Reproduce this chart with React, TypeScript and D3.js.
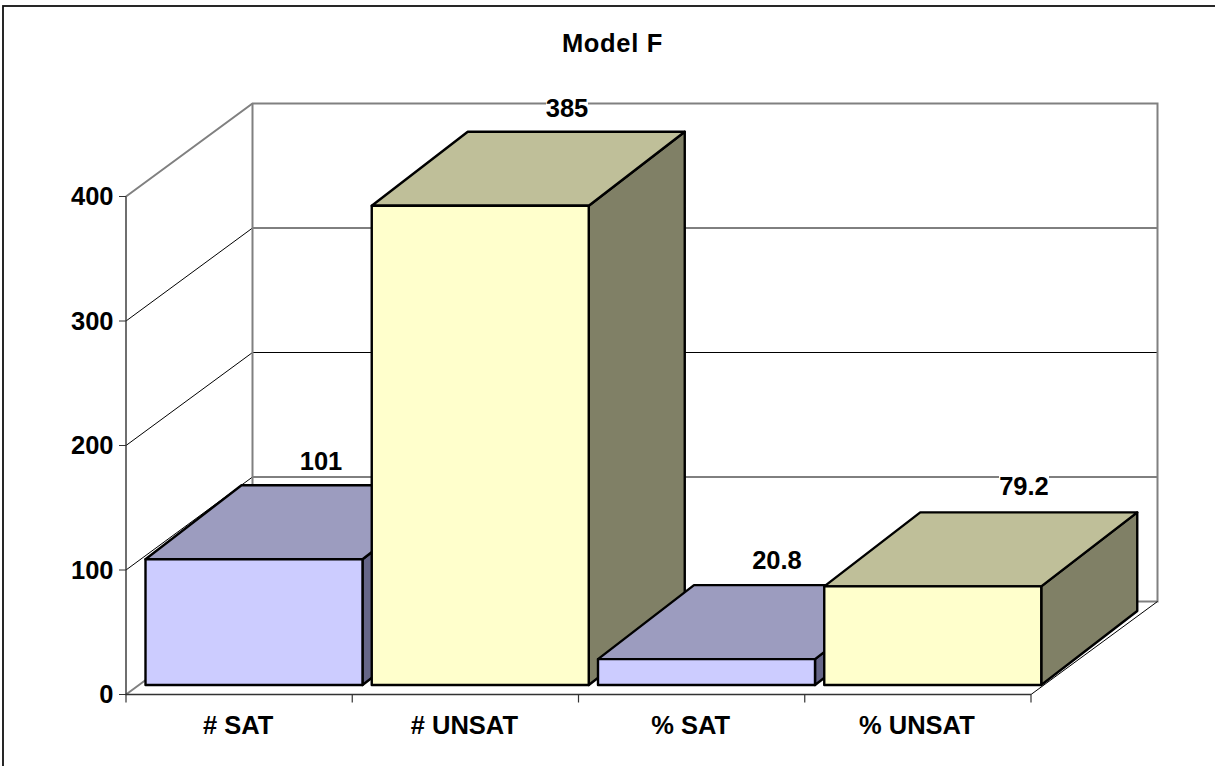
import React from "react";
import * as d3 from "d3";

const categories = ["# SAT", "# UNSAT", "% SAT", "% UNSAT"];
const values = [101, 385, 20.8, 79.2];
const valueLabels = ["101", "385", "20.8", "79.2"];
const yTicks = [0, 100, 200, 300, 400];
const frontColors = ["#CCCCFF", "#FFFFCC", "#CCCCFF", "#FFFFCC"];
const topColors = ["#9C9CBF", "#BFBF99", "#9C9CBF", "#BFBF99"];
const sideColors = ["#666688", "#808066", "#666688", "#808066"];

const FONT = "'Liberation Sans', Arial, sans-serif";
const FS = 25.5;
const depth = { dx: 126.5, dy: -93 };
const barDepth = { dx: 96, dy: -74 };
const barInset = { dx: 19.5, dy: -9.5 };
const barWidth = 217;

const x = d3.scaleBand<string>().domain(categories).range([126, 1031]);
const y = d3.scaleLinear().domain([0, 400]).range([694.5, 196.5]);
const pts = (p: [number, number][]) => d3.line()(p) + "Z";

const labelPos = [
  { x: 321, y: 461, w: 42 },
  { x: 567, y: 108, w: 42 },
  { x: 777, y: 560, w: 52 },
  { x: 1024, y: 486, w: 50 },
];

export default function App() {
  const x0 = 126, x1 = 1031;
  const bx0 = x0 + depth.dx, bx1 = x1 + depth.dx;
  const b = y(0) + depth.dy;
  const t = y(400) + depth.dy;
  return (
    <svg width={1215} height={766} style={{ position: "absolute", left: 0, top: 0, background: "#fff" }} fontFamily={FONT}>
      <rect x={3} y={6} width={1240} height={800} fill="#fff" stroke="#111" strokeWidth={1.8} />
      <text x={612.5} y={52} textAnchor="middle" fontWeight="bold" fontSize={25.5} letterSpacing={0.7} fill="#000">Model F</text>

      {/* walls */}
      {yTicks.slice(1, -1).map((v) => (
        <path key={v} d={`M${x0},${y(v)}L${bx0},${y(v) + depth.dy}L${bx1},${y(v) + depth.dy}`} stroke="#000" strokeWidth={1} fill="none" />
      ))}
      <path d={`M${x0},${y(400)}L${bx0},${t}L${bx1},${t}L${bx1},${b}L${bx0},${b}L${x0},${y(0)}`} fill="none" stroke="#808080" strokeWidth={2} />
      <path d={`M${bx0},${t}V${b}`} fill="none" stroke="#808080" strokeWidth={2} />
      <path d={`M${x1},${y(0)}L${bx1},${b}`} stroke="#000" strokeWidth={1} />

      {/* axes */}
      <path d={`M${x0},${y(400)}V${y(0)}H${x1}`} fill="none" stroke="#333" strokeWidth={1.4} />
      {yTicks.map((v) => (
        <g key={v}>
          <line x1={x0 - 7} x2={x0} y1={y(v)} y2={y(v)} stroke="#333" strokeWidth={1} />
          <text x={113.5} y={y(v) + 8.5} textAnchor="end" fontWeight="bold" fontSize={FS} fill="#000">{v}</text>
        </g>
      ))}
      {[...categories.map((c) => x(c)!), x1].map((px, i) => (
        <line key={i} x1={px} x2={px} y1={y(0)} y2={y(0) + 8} stroke="#333" strokeWidth={1.2} />
      ))}
      {categories.map((c) => (
        <text key={c} x={x(c)! + x.bandwidth() / 2 - 1} y={733.5} textAnchor="middle" fontWeight="bold" fontSize={FS} fill="#000">{c}</text>
      ))}

      {/* value labels */}
      {valueLabels.map((l, i) => (
        <g key={l}>
          <rect x={labelPos[i].x - labelPos[i].w / 2} y={labelPos[i].y - 12} width={labelPos[i].w} height={24} fill="#fff" />
          <text x={labelPos[i].x} y={labelPos[i].y + 8.5} textAnchor="middle" fontWeight="bold" fontSize={FS} fill="#000">{l}</text>
        </g>
      ))}

      {/* bars */}
      {categories.map((c, i) => {
        const l = x(c)! + barInset.dx;
        const r = l + barWidth;
        const bot = y(0) + barInset.dy;
        const top = y(values[i]) + barInset.dy;
        const d = barDepth;
        return (
          <g key={c} stroke="#000" strokeWidth={2.4} strokeLinejoin="round">
            <path d={pts([[r, top], [r + d.dx, top + d.dy], [r + d.dx, bot + d.dy], [r, bot]])} fill={sideColors[i]} />
            <path d={pts([[l, top], [l + d.dx, top + d.dy], [r + d.dx, top + d.dy], [r, top]])} fill={topColors[i]} />
            <rect x={l} y={top} width={barWidth} height={bot - top} fill={frontColors[i]} />
          </g>
        );
      })}
    </svg>
  );
}
